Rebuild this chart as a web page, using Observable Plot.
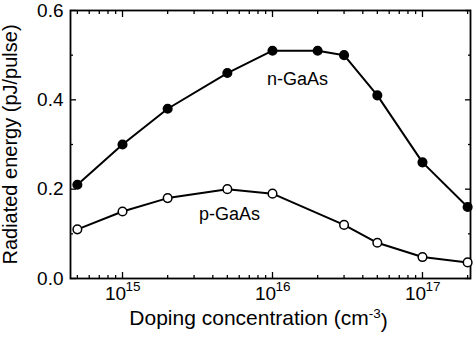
<!DOCTYPE html>
<html><head><meta charset="utf-8">
<script src="https://cdn.jsdelivr.net/npm/d3@7"></script>
<script src="https://cdn.jsdelivr.net/npm/@observablehq/plot@0.6"></script>
<style>body{margin:0;background:#fff;} svg{display:block;}</style>
</head><body><div id="chart"></div>
<script>
const nDoping = [5e14, 1e15, 2e15, 5e15, 1e16, 2e16, 3e16, 5e16, 1e17, 2e17];
const nEnergy = [0.21, 0.30, 0.38, 0.46, 0.51, 0.51, 0.50, 0.41, 0.26, 0.16];
const pDoping = [5e14, 1e15, 2e15, 5e15, 1e16, 3e16, 5e16, 1e17, 2e17];
const pEnergy = [0.11, 0.15, 0.18, 0.20, 0.19, 0.12, 0.08, 0.048, 0.036];
const decadeTicks = [1e15, 1e16, 1e17];
const decadeExponents = ["15", "16", "17"];
const minorXTicks = [5e14, 6e14, 7e14, 8e14, 9e14,
  2e15, 3e15, 4e15, 5e15, 6e15, 7e15, 8e15, 9e15,
  2e16, 3e16, 4e16, 5e16, 6e16, 7e16, 8e16, 9e16, 2e17];
const yMajor = [0, 0.2, 0.4, 0.6];
const yMinor = [0.1, 0.3, 0.5];
const seriesLabels = [
  {x: 1.47e16, y: 0.4455, text: "n-GaAs"},
  {x: 5.17e15, y: 0.143, text: "p-GaAs"}
];
const xTitle = "Doping concentration (cm-3)";
const yTitle = "Radiated energy (pJ/pulse)";

const nData = nDoping.map((x, i) => ({x, y: nEnergy[i]}));
const pData = pDoping.map((x, i) => ({x, y: pEnergy[i]}));
const font = "Liberation Sans, Arial, sans-serif";

const chart = Plot.plot({
  width: 474, height: 343,
  marginLeft: 70, marginRight: 4, marginTop: 10, marginBottom: 65,
  style: {fontFamily: font, background: "white", color: "black"},
  x: {type: "log", domain: [4.5e14, 2.09e17], label: null},
  y: {domain: [0, 0.6], label: null},
  marks: [
    // ticks
    Plot.axisX({ticks: decadeTicks, anchor: "bottom", tickSize: -6, tickFormat: () => "", label: null, strokeWidth: 1.3}),
    Plot.axisX({ticks: minorXTicks, anchor: "bottom", tickSize: -3, tickFormat: () => "", label: null, strokeWidth: 1.3}),
    Plot.axisX({ticks: decadeTicks, anchor: "top", tickSize: -6, tickFormat: () => "", label: null, strokeWidth: 1.3}),
    Plot.axisX({ticks: minorXTicks, anchor: "top", tickSize: -3, tickFormat: () => "", label: null, strokeWidth: 1.3}),
    Plot.axisY({ticks: yMajor, anchor: "left", tickSize: -6, tickFormat: () => "", label: null, strokeWidth: 1.3}),
    Plot.axisY({ticks: yMinor, anchor: "left", tickSize: -3, tickFormat: () => "", label: null, strokeWidth: 1.3}),
    Plot.axisY({ticks: yMajor, anchor: "right", tickSize: -6, tickFormat: () => "", label: null, strokeWidth: 1.3}),
    Plot.axisY({ticks: yMinor, anchor: "right", tickSize: -3, tickFormat: () => "", label: null, strokeWidth: 1.3}),
    // y tick labels
    Plot.axisY({ticks: yMajor, anchor: "left", tickSize: 0, tickPadding: 7, tickFormat: d3.format(".1f"), label: null, fontSize: 19}),
    // x tick labels with exponents
    Plot.text(decadeTicks, {x: d => d, frameAnchor: "bottom", text: () => "10", dx: -7, dy: 21, fontSize: 19, textAnchor: "middle"}),
    Plot.text(decadeTicks, {x: d => d, frameAnchor: "bottom", text: (d, i) => decadeExponents[i], dx: 3, dy: 12, fontSize: 13.5, textAnchor: "start"}),
    // axis titles
    Plot.text([xTitle], {frameAnchor: "bottom", text: d => d, dx: -12, dy: 46, fontSize: 21, textAnchor: "middle", className: "xtitle"}),
    Plot.text([yTitle], {frameAnchor: "left", text: d => d, rotate: -90, dx: -68, lineAnchor: "top", textAnchor: "middle", fontSize: 20}),
    Plot.frame({stroke: "black", strokeWidth: 1.8}),
    // series
    Plot.line(nData, {x: "x", y: "y", stroke: "black", strokeWidth: 2}),
    Plot.dot(nData, {x: "x", y: "y", fill: "black", stroke: "black", r: 4.3}),
    Plot.line(pData, {x: "x", y: "y", stroke: "black", strokeWidth: 2}),
    Plot.dot(pData, {x: "x", y: "y", fill: "white", stroke: "black", strokeWidth: 1.5, r: 4.3}),
    Plot.text(seriesLabels, {x: "x", y: "y", text: "text", fontSize: 18})
  ]
});
document.getElementById("chart").appendChild(chart);
// superscript in the x title
d3.select(chart).selectAll("text").each(function() {
  const t = d3.select(this);
  if (t.text() === xTitle) {
    t.text("");
    t.append("tspan").text("Doping concentration (cm");
    t.append("tspan").attr("dy", "-0.45em").attr("font-size", "13.5px").text("-3");
    t.append("tspan").attr("dy", "0.45em").text(")");
  }
});
</script></body></html>
